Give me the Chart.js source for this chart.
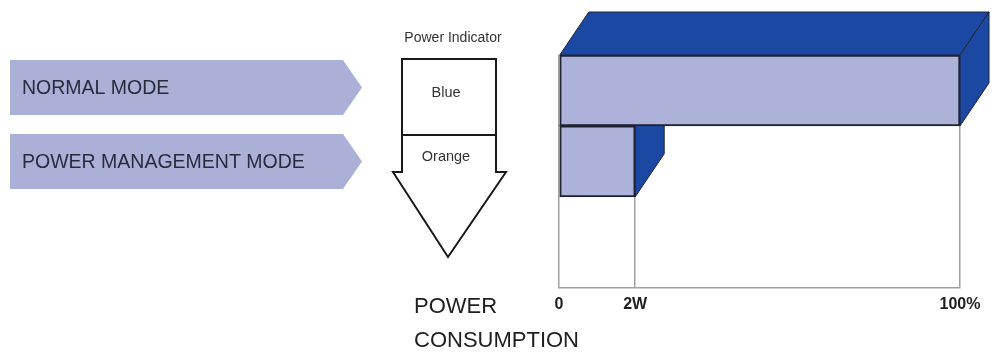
<!DOCTYPE html>
<html>
<head>
<meta charset="utf-8">
<script src="https://cdn.jsdelivr.net/npm/chart.js@4/dist/chart.umd.min.js"></script>
<style>
  html, body { margin: 0; padding: 0; background: #ffffff; }
  #wrap { width: 995px; height: 357px; position: relative; }
</style>
</head>
<body>
<div id="wrap"><canvas id="c" width="995" height="357"></canvas></div>
<script>
// ---- data ----
const modes = ['NORMAL MODE', 'POWER MANAGEMENT MODE'];
const consumption = [100, 19];            // % of full power (2W position)
const tickValues = [0, 19, 100];
const tickLabels = ['0', '2W', '100%'];
const indicatorTitle = 'Power Indicator';
const indicatorLabels = ['Blue', 'Orange'];
const axisTitle = ['POWER', 'CONSUMPTION'];

// ---- styles ----
const FRONT = '#adb2d9';
const DARK = '#1a48a3';
const EDGE = '#1f2233';
const ARROW = '#abb0d7';
const DEPTH_X = 29, DEPTH_Y = -43;

const bar3d = {
  id: 'bar3d',
  beforeDatasetsDraw(chart) {
    const ctx = chart.ctx;
    const meta = chart.getDatasetMeta(0);
    const els = meta.data.slice().reverse();
    ctx.save();
    ctx.fillStyle = DARK;
    ctx.strokeStyle = EDGE;
    ctx.lineWidth = 1;
    ctx.lineJoin = 'round';
    els.forEach(el => {
      const p = el.getProps(['x', 'y', 'base', 'height'], true);
      const l = Math.min(p.x, p.base), r = Math.max(p.x, p.base);
      const t = p.y - p.height / 2, b = p.y + p.height / 2;
      ctx.beginPath();
      ctx.moveTo(l, t); ctx.lineTo(l + DEPTH_X, t + DEPTH_Y);
      ctx.lineTo(r + DEPTH_X, t + DEPTH_Y); ctx.lineTo(r, t); ctx.closePath();
      ctx.fill(); ctx.stroke();
      ctx.beginPath();
      ctx.moveTo(r, t); ctx.lineTo(r + DEPTH_X, t + DEPTH_Y);
      ctx.lineTo(r + DEPTH_X, b + DEPTH_Y); ctx.lineTo(r, b); ctx.closePath();
      ctx.fill(); ctx.stroke();
    });
    ctx.restore();
  }
};

const decor = {
  id: 'decor',
  afterDraw(chart) {
    const ctx = chart.ctx;
    const ys = chart.scales.y;
    ctx.save();
    modes.forEach((m, i) => {
      const cy = ys.getPixelForValue(i) - (i === 0 ? 3 : 0);
      const h = 27.5;
      ctx.fillStyle = ARROW;
      ctx.beginPath();
      ctx.moveTo(10, cy - h); ctx.lineTo(343, cy - h); ctx.lineTo(362, cy);
      ctx.lineTo(343, cy + h); ctx.lineTo(10, cy + h); ctx.closePath();
      ctx.fill();
      ctx.fillStyle = '#2a2c3e';
      ctx.font = '19.5px "Liberation Sans", Arial, sans-serif';
      ctx.textAlign = 'left';
      ctx.textBaseline = 'middle';
      ctx.fillText(m, 22, cy + 1);
    });
    ctx.strokeStyle = '#1a1a1a';
    ctx.lineWidth = 2;
    ctx.lineJoin = 'miter';
    ctx.beginPath();
    ctx.moveTo(402, 172); ctx.lineTo(402, 59); ctx.lineTo(496, 59); ctx.lineTo(496, 172);
    ctx.lineTo(506, 172); ctx.lineTo(448, 257); ctx.lineTo(393, 172); ctx.closePath();
    ctx.stroke();
    ctx.beginPath();
    ctx.moveTo(402, 135); ctx.lineTo(496, 135);
    ctx.stroke();
    ctx.fillStyle = '#333333';
    ctx.textAlign = 'center';
    ctx.textBaseline = 'middle';
    ctx.font = '14px "Liberation Sans", Arial, sans-serif';
    ctx.fillText(indicatorTitle, 453, 38);
    ctx.font = '14.5px "Liberation Sans", Arial, sans-serif';
    ctx.fillText(indicatorLabels[0], 446, 93);
    ctx.fillText(indicatorLabels[1], 446, 157);
    ctx.fillStyle = '#1e1e1e';
    ctx.textAlign = 'left';
    ctx.font = '22px "Liberation Sans", Arial, sans-serif';
    ctx.fillText(axisTitle[0], 414, 307);
    ctx.fillText(axisTitle[1], 414, 341);
    ctx.restore();
  }
};

new Chart(document.getElementById('c'), {
  type: 'bar',
  data: {
    datasets: [{
      data: consumption.map((v, i) => ({ x: v, y: i })),
      backgroundColor: FRONT,
      borderColor: EDGE,
      borderWidth: 2,
      borderSkipped: false,
      barPercentage: 1,
      categoryPercentage: 1
    }]
  },
  options: {
    indexAxis: 'y',
    responsive: false,
    animation: false,
    layout: { padding: { left: 559, right: 35, top: 55, bottom: 36 } },
    plugins: { legend: { display: false }, tooltip: { enabled: false } },
    scales: {
      x: {
        type: 'linear',
        min: 0, max: 100,
        afterBuildTicks: s => { s.ticks = tickValues.map(v => ({ value: v })); },
        grid: { color: '#a0a0a0', lineWidth: 1.5, drawTicks: false },
        border: { display: true, color: '#a0a0a0', width: 1.5 },
        ticks: {
          padding: 7,
          color: '#1e1e1e',
          font: { family: '"Liberation Sans", Arial, sans-serif', size: 16, weight: 'bold' },
          maxRotation: 0,
          autoSkip: false,
          callback: (v, i) => tickLabels[i]
        }
      },
      y: {
        type: 'linear',
        reverse: true,
        offset: false,
        grid: { offset: false },
        min: -0.5, max: 2.782,
        display: false,
        afterBuildTicks: s => { s.ticks = modes.map((m, i) => ({ value: i })); }
      }
    }
  },
  plugins: [bar3d, decor]
});
</script>
</body>
</html>
